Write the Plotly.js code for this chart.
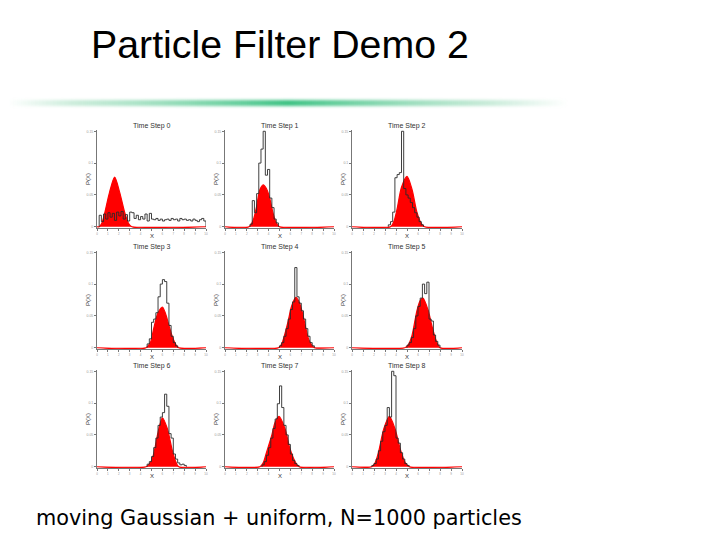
<!DOCTYPE html>
<html>
<head>
<meta charset="utf-8">
<script src="https://cdn.plot.ly/plotly-3.0.1.min.js"></script>
<style>html,body{margin:0;padding:0;background:#fff;}#chart{width:720px;height:540px;}</style>
</head>
<body>
<div id="chart"></div>
<script>
// ---------- data ----------
const slideTitle = 'Particle Filter Demo 2';
const slideCaption = 'moving Gaussian + uniform, N=1000 particles';
const panelTitles = ['Time Step 0','Time Step 1','Time Step 2','Time Step 3','Time Step 4','Time Step 5','Time Step 6','Time Step 7','Time Step 8'];
const xTickVals = [0,1,2,3,4,5,6,7,8,9,10];
const xTickText = ['0','1','2','3','4','','6','7','8','9','10'];
const yTickVals = [0, 0.05, 0.1, 0.15];
const yTickText = ['0', '0.05', '0.1', '0.15'];
const binWidth = 0.2;

// red (filled) density curve, per panel
const red0X = [0, 0.2, 0.45, 0.7, 1.15, 1.62, 2.08, 2.55, 2.9, 3.2, 10];
const red0Y = [0, 0, 0.006, 0.021, 0.054, 0.078, 0.054, 0.022, 0.005, 0, 0];
const red1X = [0, 2.2, 2.6, 2.9, 3.2, 3.5, 3.8, 4.1, 4.4, 4.7, 5.0, 10];
const red1Y = [0, 0, 0.011, 0.032, 0.058, 0.066, 0.060, 0.045, 0.022, 0.006, 0, 0];
const red2X = [0, 3.5, 3.8, 4.1, 4.5, 5.0, 5.45, 5.9, 6.3, 6.6, 10];
const red2Y = [0, 0, 0.008, 0.028, 0.062, 0.079, 0.059, 0.023, 0.005, 0, 0];
const red3X = [0, 4.5, 4.9, 5.2, 5.6, 6.0, 6.3, 6.6, 6.9, 7.2, 7.5, 10];
const red3Y = [0, 0, 0.008, 0.030, 0.055, 0.064, 0.053, 0.035, 0.018, 0.006, 0, 0];
const red4X = [0, 4.9, 5.2, 5.5, 5.8, 6.1, 6.5, 6.8, 7.1, 7.4, 7.7, 8.0, 8.2, 10];
const red4Y = [0, 0, 0.006, 0.022, 0.042, 0.065, 0.079, 0.072, 0.055, 0.032, 0.012, 0.003, 0, 0];
const red5X = [0, 4.8, 5.1, 5.45, 5.9, 6.2, 6.45, 6.9, 7.3, 7.7, 8.0, 10];
const red5Y = [0, 0, 0.004, 0.019, 0.058, 0.074, 0.078, 0.060, 0.032, 0.009, 0, 0];
const red6X = [0, 4.5, 4.9, 5.2, 5.6, 6.0, 6.45, 6.9, 7.2, 7.5, 10];
const red6Y = [0, 0, 0.006, 0.020, 0.054, 0.077, 0.060, 0.026, 0.009, 0, 0];
const red7X = [0, 3.2, 3.5, 3.8, 4.3, 4.6, 4.95, 5.5, 5.95, 6.4, 6.8, 10];
const red7Y = [0, 0, 0.006, 0.022, 0.050, 0.070, 0.079, 0.060, 0.029, 0.009, 0, 0];
const red8X = [0, 1.8, 2.1, 2.4, 2.9, 3.4, 3.9, 4.4, 4.85, 5.2, 10];
const red8Y = [0, 0, 0.006, 0.022, 0.060, 0.079, 0.060, 0.027, 0.006, 0, 0];

// black particle histograms: first bin start and bin heights
const histStart = [0.2, 2.3, 3.3, 4.6, 5.0, 5.0, 4.6, 3.4, 1.8];
const hist0 = [0.018,0.008,0.020,0.012,0.022,0.015,0.021,0.010,0.023,0.017,0.024,0.012,0.019,0.009,0.023,0.022,0.013,0.018,0.011,0.016,0.012,0.020,0.009,0.021,0.012,0.011,0.013,0.010,0.012,0.009,0.011,0.012,0.010,0.013,0.011,0.012,0.009,0.013,0.011,0.012,0.010,0.011,0.009,0.012,0.010,0.008,0.011,0.013,0.009];
const hist1 = [0.004,0.041,0.022,0.052,0.100,0.122,0.150,0.081,0.090,0.045,0.030,0.012,0.006];
const hist2 = [0.003,0.008,0.023,0.077,0.082,0.085,0.150,0.060,0.050,0.045,0.038,0.030,0.022,0.015,0.008,0.003];
const hist3 = [0.006,0.014,0.040,0.045,0.055,0.080,0.100,0.107,0.104,0.070,0.035,0.018,0.008,0.003];
const hist4 = [0.003,0.008,0.018,0.030,0.045,0.060,0.072,0.126,0.080,0.070,0.058,0.045,0.030,0.018,0.008,0.003];
const hist5 = [0.004,0.008,0.016,0.030,0.050,0.065,0.078,0.100,0.085,0.103,0.045,0.042,0.020,0.010,0.004];
const hist6 = [0.004,0.008,0.016,0.030,0.045,0.065,0.078,0.085,0.114,0.095,0.052,0.045,0.020,0.012,0.006,0.003,0.004,0.002];
const hist7 = [0.003,0.008,0.018,0.030,0.045,0.060,0.075,0.099,0.127,0.093,0.065,0.050,0.035,0.020,0.010,0.005,0.002];
const hist8 = [0.002,0.005,0.012,0.025,0.040,0.055,0.065,0.093,0.078,0.150,0.143,0.045,0.037,0.022,0.012,0.005,0.002];

// ---------- layout helpers ----------
const redX = [red0X, red1X, red2X, red3X, red4X, red5X, red6X, red7X, red8X];
const redY = [red0Y, red1Y, red2Y, red3Y, red4Y, red5Y, red6Y, red7Y, red8Y];
const hists = [hist0, hist1, hist2, hist3, hist4, hist5, hist6, hist7, hist8];

const W = 720, H = 540;
const colPx = [[97, 206], [225, 334], [352, 462]];
const rowPx = [[130, 228], [251, 349], [370, 468]];
const px = v => v / W;
const py = v => 1 - v / H;

const data = [];
const layout = {
  width: W, height: H,
  margin: {l: 0, r: 0, t: 0, b: 0},
  paper_bgcolor: '#fff', plot_bgcolor: '#fff',
  showlegend: false,
  annotations: [],
  images: []
};

function stairs(start, hs) {
  const xs = [start], ys = [0];
  hs.forEach((h, i) => {
    xs.push(start + i * binWidth, start + (i + 1) * binWidth);
    ys.push(h, h);
  });
  xs.push(start + hs.length * binWidth); ys.push(0);
  return {xs, ys};
}

const smallFont = 'Liberation Sans, Arial, sans-serif';

for (let k = 0; k < 9; k++) {
  const r = Math.floor(k / 3), c = k % 3;
  const id = k === 0 ? '' : String(k + 1);
  const xa = 'x' + id, ya = 'y' + id;
  const [x0, x1] = colPx[c], [y0, y1] = rowPx[r];

  data.push({
    type: 'scatter', mode: 'lines', x: redX[k], y: redY[k],
    xaxis: xa, yaxis: ya,
    line: {color: '#ff0000', width: 1.2, shape: 'spline', smoothing: 0.8},
    fill: 'tozeroy', fillcolor: '#ff0000', hoverinfo: 'skip'
  });
  const st = stairs(histStart[k], hists[k]);
  data.push({
    type: 'scatter', mode: 'lines', x: st.xs, y: st.ys,
    xaxis: xa, yaxis: ya,
    line: {color: '#2a2a2a', width: 0.9}, hoverinfo: 'skip'
  });

  layout['xaxis' + id] = {
    domain: [px(x0), px(x1)], anchor: ya, range: [0, 10],
    tickvals: xTickVals, ticktext: xTickText, showticklabels: true,
    tickfont: {size: 3, color: '#999', family: smallFont},
    ticks: 'outside', ticklen: 2, tickcolor: '#777', tickwidth: 1,
    showline: true, linecolor: '#777', linewidth: 1,
    showgrid: false, zeroline: false, fixedrange: true
  };
  layout['yaxis' + id] = {
    domain: [py(y1), py(y0)], anchor: xa, range: [-0.002, 0.152],
    tickvals: yTickVals, ticktext: yTickText,
    tickfont: {size: 3.5, color: '#999', family: smallFont},
    ticks: 'outside', ticklen: 2, tickcolor: '#777', tickwidth: 1,
    showline: true, linecolor: '#777', linewidth: 1,
    showgrid: false, zeroline: false, fixedrange: true
  };

  const cx = (x0 + x1) / 2;
  layout.annotations.push({
    text: panelTitles[k], xref: 'paper', yref: 'paper',
    x: px(cx), y: py(y0 - 4), xanchor: 'center', yanchor: 'middle',
    showarrow: false, font: {size: 7, color: '#333', family: smallFont}
  });
  layout.annotations.push({
    text: 'X', xref: 'paper', yref: 'paper',
    x: px(cx), y: py(y1 + 7.5), xanchor: 'center', yanchor: 'middle',
    showarrow: false, font: {size: 6, color: '#333', family: smallFont}
  });
  layout.annotations.push({
    text: 'P(X)', xref: 'paper', yref: 'paper', textangle: -90,
    x: px(x0 - 9), y: py((y0 + y1) / 2), xanchor: 'center', yanchor: 'middle',
    showarrow: false, font: {size: 6, color: '#333', family: smallFont}
  });
}

// slide title and caption
layout.annotations.push({
  text: slideTitle, xref: 'paper', yref: 'paper',
  x: px(89), y: py(44), xanchor: 'left', yanchor: 'middle', showarrow: false,
  font: {size: 39.3, color: '#000', family: 'Liberation Sans, Arial, sans-serif'}
});
layout.annotations.push({
  text: slideCaption, xref: 'paper', yref: 'paper',
  x: px(34), y: py(517.5), xanchor: 'left', yanchor: 'middle', showarrow: false,
  font: {size: 20.8, color: '#000', family: 'DejaVu Sans, Verdana, sans-serif'}
});

// green fading rule under the title
const svg = "<svg xmlns='http://www.w3.org/2000/svg' width='560' height='16'>" +
  "<defs><linearGradient id='g' x1='0' x2='1' y1='0' y2='0'>" +
  "<stop offset='0' stop-color='#9fdcbc' stop-opacity='0'/>" +
  "<stop offset='0.12' stop-color='#a8e0c2' stop-opacity='0.6'/>" +
  "<stop offset='0.5' stop-color='#3cc283' stop-opacity='1'/>" +
  "<stop offset='0.85' stop-color='#9fdcbc' stop-opacity='0.6'/>" +
  "<stop offset='1' stop-color='#9fdcbc' stop-opacity='0'/>" +
  "</linearGradient><filter id='f' x='-0.05' y='-1' width='1.1' height='3'><feGaussianBlur stdDeviation='0 1.6'/></filter></defs>" +
  "<rect x='0' y='5' width='560' height='6' fill='url(#g)' filter='url(#f)'/></svg>";
layout.images.push({
  source: 'data:image/svg+xml;charset=utf-8,' + encodeURIComponent(svg),
  xref: 'paper', yref: 'paper', x: px(8), y: py(95),
  sizex: 560 / W, sizey: 16 / H, sizing: 'stretch',
  xanchor: 'left', yanchor: 'top', layer: 'below'
});

Plotly.newPlot('chart', data, layout, {displayModeBar: false, staticPlot: true});
</script>
</body>
</html>
